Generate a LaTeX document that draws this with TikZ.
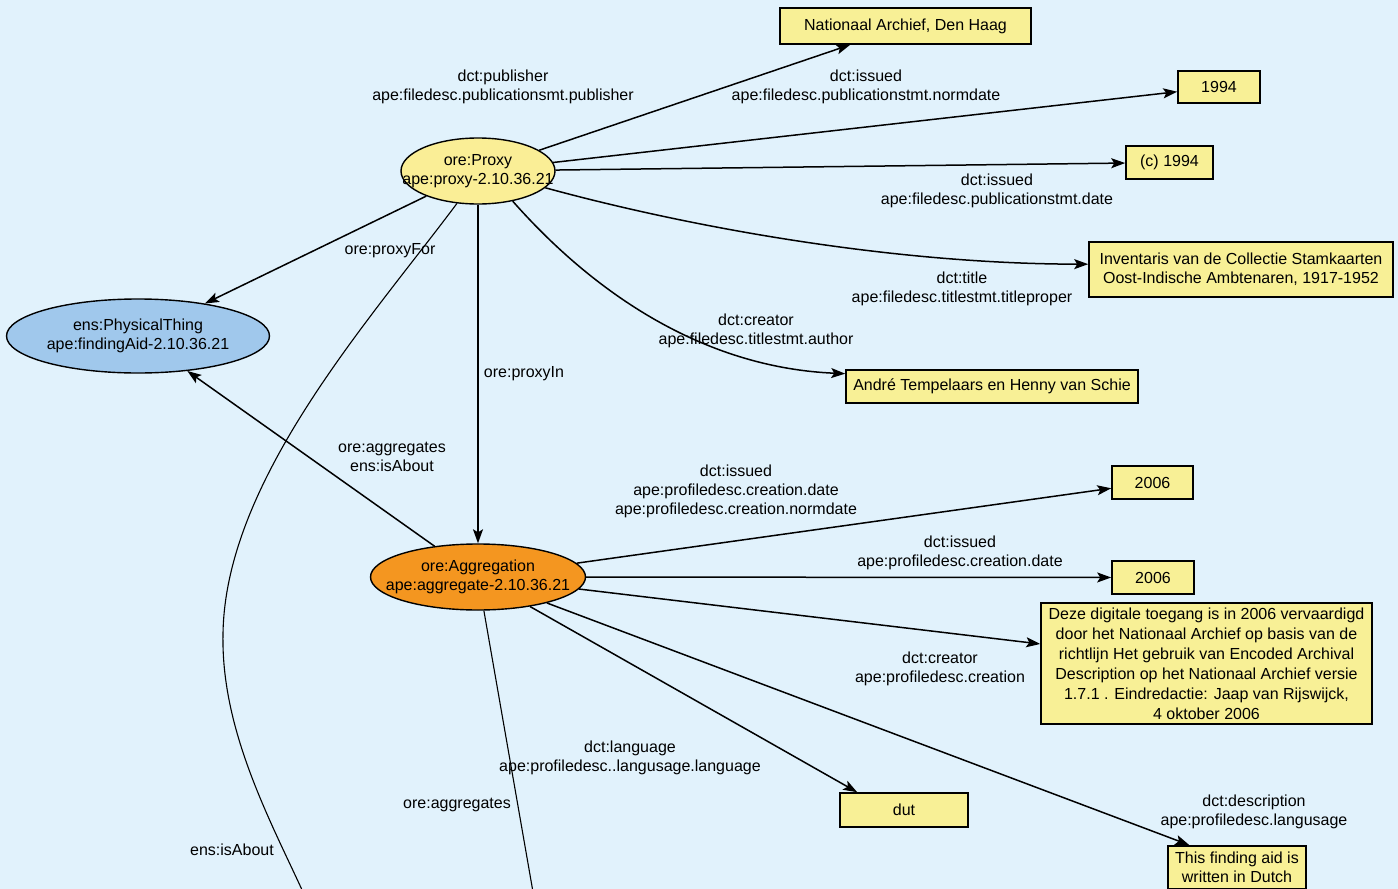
\documentclass[tikz,border=0pt]{standalone}
\usepackage{fontspec}
\setmainfont{Liberation Sans}
\usetikzlibrary{shapes.geometric,arrows.meta}
\definecolor{bgc}{RGB}{225,242,252}
\definecolor{boxy}{RGB}{248,240,150}
\definecolor{proxyy}{RGB}{250,238,150}
\definecolor{physb}{RGB}{160,200,236}
\definecolor{aggo}{RGB}{244,150,32}
\begin{document}
\begin{tikzpicture}[x=1pt,y=-1pt,
  txt/.style={font=\fontsize{16}{19}\selectfont},
  lbl/.style={txt, align=center, inner sep=0pt},
  box/.style={txt, draw, line width=1.6pt, fill=boxy, align=center, inner sep=0pt},
  ellshape/.style={ellipse, draw, line width=1.4pt, inner sep=0pt},
  arr/.style={line width=1.5pt, -{Stealth[length=14pt,width=10pt,inset=3pt]}},
  thinline/.style={line width=1.1pt}]
\fill[bgc] (0,0) rectangle (1398,889);
\useasboundingbox (0,0) rectangle (1398,889);
\clip (0,0) rectangle (1398,889);

% ellipses
\node[ellshape, fill=proxyy, minimum width=154pt, minimum height=66pt] (proxy) at (478,171) {};
\node[ellshape, fill=physb, minimum width=263pt, minimum height=74pt] (phys) at (138,336) {};
\node[ellshape, fill=aggo, minimum width=215pt, minimum height=66pt] (agg) at (478,577) {};
\node[lbl] (proxyt) at (proxy.center) {ore:Proxy\\ape:proxy-2.10.36.21};
\node[lbl] (physt) at (phys.center) {ens:PhysicalThing\\ape:findingAid-2.10.36.21};
\node[lbl] (aggt) at (agg.center) {ore:Aggregation\\ape:aggregate-2.10.36.21};

% boxes
\node[box, minimum width=251pt, minimum height=36pt] (nat) at (905.5,26) {Nationaal Archief, Den Haag};
\node[box, minimum width=82pt, minimum height=32pt] (y94) at (1219,87) {1994};
\node[box, minimum width=87pt, minimum height=33pt] (c94) at (1169.5,162.5) {(c) 1994};
\node[box, minimum width=304pt, minimum height=55pt] (inv) at (1241,269.5) {Inventaris van de Collectie Stamkaarten\\Oost-Indische Ambtenaren, 1917-1952};
\node[box, minimum width=292pt, minimum height=33pt] (andre) at (992,386.5) {André Tempelaars en Henny van Schie};
\node[box, minimum width=81pt, minimum height=33pt] (y06a) at (1152.5,482.5) {2006};
\node[box, minimum width=82pt, minimum height=33pt] (y06b) at (1153,577.5) {2006};
\node[box, font=\fontsize{16}{20}\selectfont, minimum width=331pt, minimum height=121pt] (desc) at (1206.5,663.5) {Deze digitale toegang is in 2006 vervaardigd\\door het Nationaal Archief op basis van de\\richtlijn Het gebruik van Encoded Archival\\Description op het Nationaal Archief versie\\1.7.1 . Eindredactie: Jaap van Rijswijck,\\4 oktober 2006};
\node[box, minimum width=128pt, minimum height=34pt] (dut) at (904,810) {dut};
\node[box, minimum width=138pt, minimum height=43pt, anchor=north] (dutch) at (1237,845) {This finding aid is\\written in Dutch};

\coordinate (isAboutEnd) at (303,892);
\coordinate (aggEnd) at (533,892);

% connectors from proxy
\draw[arr] (proxy) -- (nat);
\draw[arr] (proxy) -- (y94);
\draw[arr] (proxy) -- (c94);
\draw[arr] (proxy.-14) .. controls (700,230) and (900,264) .. (inv.178);
\draw[arr] (proxy.-41) .. controls (600,300) and (710,368) .. (andre.175);
\draw[arr] (proxy) -- (phys);
\draw[arr] (proxy) -- (agg);
\draw[thinline] (proxy.-123) .. controls (370,320) and (225,480) .. (223,634) .. controls (221,730) and (270,820) .. (isAboutEnd);

% connectors from aggregation
\draw[arr] (agg) -- (phys);
\draw[thinline] (agg) -- (aggEnd);
\draw[arr] (agg) -- (y06a);
\draw[arr] (agg) -- (y06b);
\draw[arr] (agg) -- (desc);
\draw[arr] (agg) -- ([xshift=18pt]dut.north west);
\draw[arr] (agg) -- ([xshift=22pt]dutch.north west);

% labels
\node[lbl] (l1) at (503,86.5) {dct:publisher\\ape:filedesc.publicationsmt.publisher};
\node[lbl] (l2) at (866,86.5) {dct:issued\\ape:filedesc.publicationstmt.normdate};
\node[lbl] (l3) at (997,190.5) {dct:issued\\ape:filedesc.publicationstmt.date};
\node[lbl] (l4) at (962,289) {dct:title\\ape:filedesc.titlestmt.titleproper};
\node[lbl] (l5) at (756,330.5) {dct:creator\\ape:filedesc.titlestmt.author};
\node[lbl] (l6) at (390,251) {ore:proxyFor};
\node[lbl] (l7) at (524,374) {ore:proxyIn};
\node[lbl] (l8) at (392,457) {ore:aggregates\\ens:isAbout};
\node[lbl] (l9) at (736,491) {dct:issued\\ape:profiledesc.creation.date\\ape:profiledesc.creation.normdate};
\node[lbl] (l10) at (960,553) {dct:issued\\ape:profiledesc.creation.date};
\node[lbl] (l11) at (940,668.5) {dct:creator\\ape:profiledesc.creation};
\node[lbl] (l12) at (630,757.5) {dct:language\\ape:profiledesc..langusage.language};
\node[lbl] (l13) at (457,805) {ore:aggregates};
\node[lbl] (l14) at (232,850) {ens:isAbout};
\node[lbl] (l15) at (1254,811.5) {dct:description\\ape:profiledesc.langusage};
\end{tikzpicture}
\end{document}
